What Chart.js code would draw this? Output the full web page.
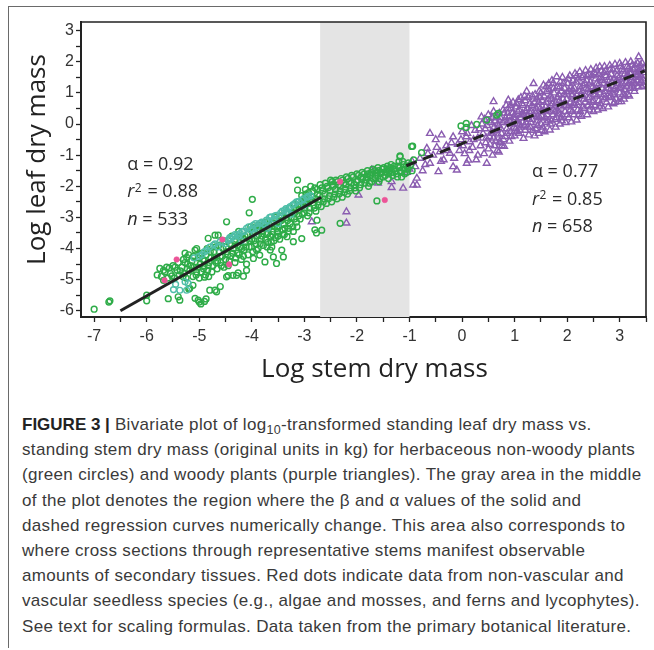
<!DOCTYPE html>
<html>
<head>
<meta charset="utf-8">
<script src="https://cdn.jsdelivr.net/npm/chart.js@4.4.1/dist/chart.umd.min.js"></script>
<style>
  html, body { margin: 0; padding: 0; background: #fff; }
  body { width: 654px; height: 650px; position: relative; overflow: hidden; }
  #frame { position: absolute; left: 8px; top: 6px; width: 660px; height: 641px;
           border-top: 1.4px solid #6a6a6a; border-left: 1.4px solid #6a6a6a; }
  #wrap { position: absolute; left: 0; top: 0; width: 654px; height: 395px; }
  #cap { position: absolute; left: 22px; top: 412px; width: 632px;
         font-family: "Liberation Sans", Arial, sans-serif; font-size: 17px; letter-spacing: 0.33px;
         line-height: 25.2px; color: #3a3a3a; white-space: nowrap; }
  #cap b { color: #222; letter-spacing: 0; }
  #cap sub { font-size: 12.5px; line-height: 0; vertical-align: -4px; }
</style>
</head>
<body>
<div id="frame"></div>
<div id="wrap"><canvas id="c" width="654" height="395"></canvas></div>
<div id="cap"><b>FIGURE 3 |</b> Bivariate plot of log<sub>10</sub>-transformed standing leaf dry mass vs.<br>standing stem dry mass (original units in kg) for herbaceous non-woody plants<br>(green circles) and woody plants (purple triangles). The gray area in the middle<br>of the plot denotes the region where the β and α values of the solid and<br>dashed regression curves numerically change. This area also corresponds to<br>where cross sections through representative stems manifest observable<br>amounts of secondary tissues. Red dots indicate data from non-vascular and<br>vascular seedless species (e.g., algae and mosses, and ferns and lycophytes).<br>See text for scaling formulas. Data taken from the primary botanical literature.</div>
<script>
// ---------------- DATA (log10 stem dry mass, log10 leaf dry mass) ----------------
const xRange = [-7.25, 3.5];
const yRange = [-6.2, 3.28];
const xTickValues = [-7, -6, -5, -4, -3, -2, -1, 0, 1, 2, 3];
const yTickValues = [-6, -5, -4, -3, -2, -1, 0, 1, 2, 3];
const shadeRange = [-2.7, -1.0];
const xTitle = 'Log stem dry mass';
const yTitle = 'Log leaf dry mass';

const herbLine = [[-6.5, -6.0], [-2.68, -2.35]];
const woodyLine = [[-1.06, -1.34], [3.475, 1.71]];

const herbStats = ["α = 0.92", "r2 = 0.88", "n = 533"];
const woodyStats = ["α = 0.77", "r2 = 0.85", "n = 658"];
const herbStatsAnchor = [-6.37, -1.3];
const woodyStatsAnchor = [1.33, -1.53];

const greenPts = [
  [-7.0,-5.95],[-6.72,-5.72],[-6.7,-5.68],[-6.0,-5.5],[-6.0,-5.68],[-5.75,-4.64],[-5.68,-5.02],
  [-5.59,-5.61],[-5.4,-5.55],[-5.37,-5.66],[-5.2,-5.3],[-5.08,-5.6],[-5.0,-5.72],[-4.97,-5.78],
  [-4.9,-5.7],[-4.87,-5.62],[-5.02,-5.66],[-4.8,-5.34],[-4.7,-5.34],[-4.67,-5.39],[-4.6,-5.22],
  [-4.9,-4.92],[-4.82,-4.9],[-4.48,-4.91],[-4.45,-4.87],[-4.36,-4.86],[-4.29,-4.86],[-4.26,-4.78],
  [-4.16,-4.89],[-4.1,-4.7],[-4.48,-3.14],[-4.64,-3.57],[-4.05,-2.85],[-3.87,-3.25],[-3.75,-4.43],
  [-3.59,-4.27],[-3.53,-4.48],[-3.43,-4.05],[-3.4,-4.27],[-3.65,-4.05],[-3.62,-3.95],[-3.97,-4.32],
  [-3.85,-4.21],[-3.33,-3.62],[-3.21,-3.78],[-3.05,-3.68],[-2.8,-3.4],[-2.77,-3.5],[-2.67,-3.41],
  [-3.1,-2.66],[-3.0,-2.5],[-3.13,-1.8],[-3.13,-2.12],[-2.76,-3.09],[-3.99,-2.42],[-2.47,-1.85],
  [-1.62,-2.47],[-2.32,-3.19],[-1.18,-1.05],[-0.94,-0.71],[-0.96,-0.72],[-0.77,-0.92],[-1.18,-1.02],
  [-0.02,-0.06],[0.08,-0.11],[0.08,0.02],[0.28,-0.01],[0.47,0.13],[0.66,0.29],[0.69,0.34],
  [-5.18,-5.28],[-5.12,-5.18],[-5.27,-4.15],[-5.24,-4.28],[-5.08,-4.05],[-5.05,-4.0],[-4.83,-3.67],[-4.7,-3.57],
  [-5.8,-4.85],[-5.72,-4.9],[-5.65,-4.75],[-5.6,-4.95],[-5.62,-4.6],
  [-5.55,-4.8],[-5.5,-4.55],[-5.47,-4.95],[-5.42,-4.7],[-5.4,-4.45],[-5.38,-4.85],
  [-5.33,-4.6],[-5.3,-4.35],[-5.28,-4.8],[-5.25,-4.95],[-5.22,-4.5],[-5.2,-4.2],[-5.18,-4.7],
  [-5.14,-4.4],[-5.12,-4.9],[-5.1,-4.6],[-5.05,-4.75],[-5.02,-4.3],[-5.0,-4.95],[-4.98,-4.5],
  [-4.95,-4.15],[-4.92,-4.65],[-4.9,-4.4],[-4.88,-4.85],[-4.85,-4.0],[-4.83,-4.55],[-4.78,-4.3],[-4.76,-4.75],
  [-4.72,-4.1],[-4.68,-4.45],[-4.66,-4.65],[-4.63,-3.9],[-4.6,-4.25],[-4.58,-4.55],[-4.55,-4.0],
  [-4.52,-3.75],[-4.5,-4.35],[-4.48,-4.1],[-4.45,-4.55],[-4.42,-3.85],[-4.4,-4.25],[-4.38,-3.6],[-4.35,-4.0],[-4.32,-4.45],
  [-4.3,-3.7],[-4.28,-4.15],[-4.25,-3.45],[-4.22,-3.95],[-4.2,-4.35],[-4.18,-3.65],[-4.15,-4.05],[-4.12,-3.8],[-4.1,-4.5],
  [-4.08,-3.55],[-4.05,-3.95],[-4.02,-3.3],[-4.0,-3.7],[-3.98,-4.1],[-3.95,-3.45],[-3.92,-3.85],[-3.9,-3.6],[-3.88,-4.0],
  [-3.85,-3.3],[-3.82,-3.7],[-3.8,-3.45],[-3.78,-3.9],[-3.75,-3.15],[-3.72,-3.55],[-3.7,-3.8],[-3.68,-3.35],
  [-3.65,-3.6],[-3.62,-3.2],[-3.6,-3.45],[-3.58,-3.75],[-3.55,-3.0],[-3.52,-3.35],[-3.5,-3.6],[-3.48,-3.15],
  [-3.45,-2.95],[-3.42,-3.4],[-3.4,-3.2],[-3.38,-3.55],[-3.35,-2.85],[-3.32,-3.1],[-3.3,-3.35],[-3.28,-2.7],
  [-3.25,-3.0],[-3.22,-3.3],[-3.2,-2.6],[-3.18,-2.85],[-3.15,-3.15],[-3.12,-2.5],[-3.1,-2.75],[-3.08,-3.05],
  [-3.05,-2.3],[-3.02,-2.6],[-3.0,-2.85],[-2.98,-2.1],[-2.96,-2.45],[-2.94,-2.95],[-2.92,-2.2],[-2.9,-2.7],[-2.88,-2.0],
  [-2.85,-2.35],[-2.82,-2.6],[-2.8,-2.05],[-2.78,-2.8],[-2.75,-2.25],[-2.72,-2.5],[-2.7,-1.95],[-2.68,-2.65],
  [-2.65,-2.15],[-2.62,-2.4],[-2.6,-1.9],[-2.58,-2.55],[-2.55,-2.05],[-2.52,-2.3],[-2.5,-1.8],[-2.48,-2.5],
  [-2.45,-2.0],[-2.42,-2.25],[-2.4,-1.8],[-2.38,-2.4],[-2.35,-1.95],[-2.32,-2.15],[-2.3,-1.75],[-2.28,-2.35],
  [-2.25,-1.9],[-2.22,-2.1],[-2.2,-1.7],[-2.18,-2.25],[-2.15,-1.85],[-2.12,-2.05],[-2.1,-1.65],
  [-2.05,-1.95],[-2.02,-2.15],[-2.0,-1.6],[-1.98,-1.8],[-1.95,-2.05],[-1.92,-1.7],[-1.9,-1.55],
  [-1.85,-1.9],[-1.82,-1.7],[-1.8,-1.5],[-1.78,-2.0],[-1.75,-1.65],[-1.72,-1.85],[-1.7,-1.45],
  [-1.65,-1.75],[-1.62,-1.55],[-1.6,-1.4],[-1.58,-1.85],[-1.55,-1.6],[-1.52,-1.45],[-1.5,-1.7],
  [-1.45,-1.55],[-1.42,-1.35],[-1.4,-1.75],[-1.38,-1.5],[-1.35,-1.3],[-1.32,-1.65],[-1.3,-1.45],
  [-1.25,-1.6],[-1.22,-1.35],[-1.2,-1.2],[-1.18,-1.5],[-1.15,-1.7],[-1.12,-1.3],[-1.1,-1.45],[-1.05,-1.55],[-1.02,-1.25],
  [-5.68,-4.7],[-5.57,-4.62],[-5.52,-4.88],[-5.46,-4.6],[-5.36,-4.72],[-5.31,-4.9],[-5.27,-4.45],
  [-5.23,-4.65],[-5.16,-4.55],[-5.11,-4.25],[-5.06,-4.85],[-5.03,-4.6],[-4.99,-4.2],[-4.96,-4.75],[-4.93,-4.35],[-4.91,-4.55],
  [-4.87,-4.2],[-4.84,-4.7],[-4.81,-4.45],[-4.79,-4.1],[-4.74,-4.55],[-4.71,-4.3],[-4.69,-3.95],[-4.65,-4.4],
  [-4.62,-4.1],[-4.59,-4.45],[-4.56,-4.25],[-4.53,-4.6],
  [-4.49,-3.95],[-4.46,-4.2],[-4.43,-4.4],[-4.39,-3.9],[-4.36,-4.15],[-4.33,-3.75],[-4.31,-4.3],[-4.27,-3.9],
  [-4.24,-4.2],[-4.21,-3.6],[-4.19,-4.0],[-4.16,-4.25],[-4.13,-3.6],[-4.11,-3.95],[-4.07,-4.2],[-4.04,-3.75],[-4.01,-3.95],
  [-3.99,-3.5],[-3.96,-3.75],[-3.93,-3.3],[-3.91,-4.05],[-3.87,-3.55],[-3.84,-3.85],[-3.81,-3.6],[-3.77,-3.35],
  [-3.74,-3.7],[-3.71,-3.95],[-3.69,-3.5],[-3.66,-3.25],[-3.63,-3.8],[-3.61,-3.55],[-3.57,-3.3],[-3.54,-3.65],[-3.51,-3.45],
  [-3.49,-3.3],[-3.47,-3.7],[-3.44,-3.1],[-3.41,-3.55],[-3.37,-3.35],[-3.34,-3.0],[-3.31,-3.45],[-3.27,-3.2],
  [-3.24,-2.85],[-3.21,-3.45],[-3.19,-3.05],[-3.16,-2.7],[-3.14,-3.3],[-3.11,-2.95],[-3.07,-2.6],[-3.04,-2.9],[-3.01,-2.4],
  [-2.99,-2.7],[-2.97,-2.25],[-2.93,-2.55],[-2.91,-2.85],[-2.87,-2.45],[-2.84,-2.15],[-2.81,-2.7],[-2.79,-2.4],
  [-2.76,-2.1],[-2.74,-2.6],[-2.71,-2.3],[-2.67,-2.05],[-2.64,-2.5],[-2.61,-2.25],[-2.57,-2.0],[-2.54,-2.4],[-2.51,-2.15],
  [-2.47,-1.95],[-2.44,-2.35],[-2.41,-2.1],[-2.37,-1.85],[-2.34,-2.25],[-2.31,-2.0],[-2.27,-1.8],[-2.24,-2.2],
  [-2.21,-1.95],[-2.17,-1.75],[-2.14,-2.15],[-2.11,-1.9],[-2.07,-1.7],[-2.04,-2.05],[-2.01,-1.85],
  [-1.97,-1.65],[-1.93,-1.95],[-1.89,-1.75],[-1.86,-1.6],[-1.83,-1.8],[-1.79,-1.6],[-1.76,-1.9],[-1.73,-1.55],
  [-1.69,-1.75],[-1.66,-1.5],[-1.63,-1.65],[-1.59,-1.5],[-1.56,-1.75],[-1.53,-1.55],[-1.49,-1.4],[-1.46,-1.65],
  [-1.43,-1.45],[-1.39,-1.6],[-1.36,-1.4],[-1.33,-1.55],[-1.29,-1.35],[-1.26,-1.5],[-1.23,-1.7],[-1.19,-1.4],
  [-1.16,-1.55],[-1.13,-1.2],[-1.09,-1.6],[-1.06,-1.35],[-1.03,-1.45],[-0.98,-1.3],[-0.95,-1.5],[-0.92,-1.15]
];

const tealPts = [
  [-5.49,-5.32],[-5.37,-5.34],[-5.24,-5.34],[-5.27,-5.07],[-5.21,-5.12],[-5.45,-5.15],
  [-4.73,-3.89],[-4.6,-3.78],[-4.45,-3.73],[-4.35,-3.62],[-4.22,-3.51],[-4.1,-3.35],[-3.97,-3.25],
  [-3.85,-3.19],[-3.72,-3.09],[-3.63,-2.98],[-3.53,-2.93],[-4.65,-3.95],[-4.5,-3.85],[-4.4,-3.7],
  [-4.28,-3.55],[-4.15,-3.45],[-4.02,-3.4],[-3.9,-3.3],[-3.78,-3.2],[-3.68,-3.1],[-3.58,-3.05],
  [-3.45,-2.85],[-3.38,-2.78],[-3.3,-2.7],[-3.22,-2.6],[-3.15,-2.5],[-3.05,-2.45],[-2.95,-2.35],
  [-2.88,-2.3],[-4.85,-4.05],[-4.95,-4.2],[-3.5,-3.2],[-3.25,-2.9],[-3.0,-2.6],[-4.2,-3.75],
  [-3.95,-3.5],[-3.7,-3.35],
  [-4.8,-3.95],[-4.7,-3.85],[-4.55,-3.8],[-4.42,-3.65],[-4.32,-3.55],[-4.18,-3.45],[-4.06,-3.3],
  [-3.93,-3.2],[-3.81,-3.15],[-3.66,-3.0],[-3.56,-2.95],[-3.42,-2.8],[-3.35,-2.72],[-3.27,-2.65],
  [-3.18,-2.55],[-3.1,-2.48],[-3.02,-2.4],[-2.92,-2.32],[-4.9,-4.1],[-5.0,-4.25],[-5.1,-4.3],
  [-4.25,-3.6],[-3.98,-3.38],[-3.75,-3.25],[-3.48,-3.0],[-3.32,-2.82]
];

const pinkPts = [
  [-5.43,-4.35],[-5.66,-5.02],[-4.56,-3.71],[-4.43,-4.51],[-2.32,-1.85],[-1.47,-2.44]
];

const purplePts = [
  [-2.2,-2.82],[-2.2,-3.18],[-2.86,-3.14],[-1.97,-2.28],[-1.6,-1.9],[-1.72,-1.48],[-1.34,-2.04],
  [-1.12,-2.06],[-0.93,-1.96],[-1.34,-1.85],[-0.86,-1.96],[-0.89,-1.37],[-0.86,-1.74],
  [-0.61,-1.26],[-0.45,-1.53],[-0.17,-1.37],[-0.1,-1.48],[0.09,-1.26],[0.12,-1.16],[0.47,-1.26],
  [-0.67,-0.78],[-0.42,-0.89],[-0.23,-0.94],[-0.39,-0.35],[-0.17,-0.41],[-0.02,-0.5],[0.08,-0.41],
  [0.15,-0.57],[0.37,0.23],[0.6,0.72],[0.88,0.77],[-1.0,-1.45],[-0.8,-1.1],[-0.55,-1.0],[-0.3,-0.7],
  [-0.05,-0.85],[0.05,-0.95],[0.2,-0.75],[0.25,-0.2],[0.3,-1.0],[-1.05,-1.55],[-0.75,-1.5],
  [-0.35,-1.15],[-0.2,-0.6],[0.0,-0.25],[0.18,-0.05],[0.3,-0.45],[-0.61,-0.3],[-0.5,-0.5],
  [-0.95,-1.2],[-0.7,-1.3],[-0.65,-0.95],[-0.48,-0.75],[-0.4,-1.2],[-0.28,-0.85],[-0.15,-1.1],
  [-0.08,-0.65],[0.02,-0.7],[0.1,-0.3],[0.14,-0.85],[0.22,-0.5],[0.27,-1.15],[0.33,-0.15],[0.35,-0.7],[0.38,0.0],
  [0.42,-0.95],[0.45,-0.6],[0.4,-0.3],[0.48,-0.05],[0.43,0.15],[0.5,-0.8],[0.52,-0.4],[0.55,0.05],[0.5,0.3],
  [0.58,-1.0],[0.62,-0.7],[0.6,-0.45],[0.65,-0.2],[0.63,0.1],[0.6,0.4],[0.67,-0.85],
  [0.7,-0.9],[0.72,-0.55],[0.75,-0.3],[0.7,-0.05],[0.73,0.2],[0.78,0.45],[0.76,-0.7],
  [0.8,-0.72],[0.82,-0.4],[0.85,-0.15],[0.81,0.1],[0.87,0.35],[0.84,0.6],[0.9,-0.55],[0.92,-0.25],
  [0.95,0.0],[0.9,0.25],[0.93,0.5],[0.97,0.7],
  [1.0,-0.38],[1.02,-0.15],[1.05,0.1],[1.0,0.3],[1.03,0.55],[1.07,0.78],[1.08,-0.3],[1.1,0.0],
  [1.12,0.2],[1.09,0.45],[1.14,0.65],[1.12,0.85],
  [1.17,-0.46],[1.2,-0.2],[1.22,0.05],[1.18,0.3],[1.24,0.5],[1.2,0.75],[1.23,1.05],[1.27,-0.35],
  [1.3,-0.1],[1.28,0.15],[1.32,0.4],[1.29,0.65],[1.34,0.9],[1.36,1.3],
  [1.38,-0.38],[1.4,-0.15],[1.42,0.1],[1.4,0.35],[1.45,0.55],[1.43,0.8],[1.47,1.05],[1.46,-0.3],
  [1.5,0.0],[1.52,0.25],[1.49,0.5],[1.53,0.75],[1.5,1.0],[1.55,1.25],
  [1.57,-0.25],[1.6,0.05],[1.62,0.3],[1.59,0.55],[1.64,0.8],[1.61,1.05],[1.65,1.3],[1.67,-0.19],
  [1.7,0.1],[1.68,0.4],[1.72,0.65],[1.69,0.9],[1.74,1.15],[1.71,1.4],
  [1.78,-0.1],[1.8,0.2],[1.82,0.45],[1.79,0.7],[1.84,0.95],[1.81,1.2],[1.8,1.52],[1.86,0.0],
  [1.9,0.3],[1.88,0.55],[1.92,0.8],[1.89,1.05],[1.93,1.3],[1.91,1.5],
  [1.97,0.05],[2.0,0.3],[2.02,0.55],[1.99,0.8],[2.04,1.05],[2.01,1.3],[2.05,1.55],[2.08,0.07],
  [2.1,0.4],[2.12,0.65],[2.09,0.9],[2.14,1.15],[2.11,1.4],[2.15,1.62],
  [2.18,0.13],[2.2,0.45],[2.22,0.7],[2.19,0.95],[2.24,1.2],[2.21,1.45],[2.24,1.68],[2.27,0.25],
  [2.3,0.55],[2.32,0.8],[2.29,1.05],[2.34,1.3],[2.31,1.55],[2.35,1.72],
  [2.38,0.3],[2.4,0.6],[2.42,0.85],[2.39,1.1],[2.44,1.35],[2.41,1.6],[2.45,1.75],[2.5,0.4],
  [2.48,0.7],[2.52,0.95],[2.49,1.2],[2.54,1.45],[2.51,1.65],[2.55,1.8],
  [2.58,0.45],[2.6,0.75],[2.62,1.0],[2.59,1.25],[2.64,1.5],[2.62,1.84],[2.65,1.7],[2.68,0.5],
  [2.7,0.8],[2.72,1.05],[2.69,1.3],[2.74,1.55],[2.71,1.85],
  [2.78,0.55],[2.8,0.85],[2.82,1.1],[2.79,1.35],[2.84,1.6],[2.81,1.88],[2.88,0.65],[2.9,0.95],
  [2.92,1.2],[2.89,1.45],[2.94,1.7],[2.91,1.92],
  [2.98,0.72],[3.03,0.72],[3.0,1.0],[3.02,1.25],[2.99,1.5],[3.04,1.75],[3.0,1.95],[3.08,0.8],
  [3.1,1.1],[3.12,1.35],[3.09,1.6],[3.14,1.85],[3.11,1.98],
  [3.18,0.9],[3.2,1.15],[3.22,1.4],[3.19,1.65],[3.24,1.9],[3.21,2.0],[3.28,1.05],[3.3,1.3],
  [3.32,1.55],[3.29,1.8],[3.34,1.95],
  [3.38,1.31],[3.4,1.55],[3.42,1.75],[3.39,1.9],[3.36,2.16],[3.44,1.45],[3.45,1.65],
  [0.44,-0.15],[0.46,-0.45],[0.53,-0.65],[0.56,-0.25],[0.57,0.2],[0.61,-0.1],[0.64,-0.55],[0.66,0.25],
  [0.69,-0.35],[0.71,0.35],[0.74,-0.15],[0.77,0.05],[0.79,-0.5],[0.83,0.2],[0.86,-0.3],[0.88,0.5],
  [0.91,0.1],[0.94,-0.4],[0.96,0.35],[0.99,-0.1],
  [1.01,0.15],[1.04,-0.25],[1.06,0.4],[1.11,-0.1],[1.13,0.3],[1.15,0.05],[1.16,0.6],[1.19,-0.05],
  [1.21,0.4],[1.25,0.25],[1.26,0.85],[1.31,0.05],[1.33,0.6],[1.35,-0.2],[1.37,0.3],[1.39,0.95],
  [1.41,0.5],[1.44,-0.05],[1.46,0.7],[1.48,0.2],
  [1.51,0.4],[1.54,-0.1],[1.56,0.9],[1.58,0.2],[1.6,0.7],[1.63,0.45],[1.66,1.1],[1.68,0.0],
  [1.7,0.8],[1.73,0.3],[1.75,1.0],[1.76,0.55],[1.77,0.15],[1.83,0.35],[1.85,0.75],[1.87,1.35],
  [1.89,0.2],[1.94,0.6],[1.95,1.15],[1.96,0.4],
  [2.0,1.0],[2.03,0.2],[2.06,0.7],[2.07,1.2],[2.1,0.95],[2.13,0.3],[2.16,0.8],[2.17,1.35],
  [2.2,0.6],[2.23,1.05],[2.25,0.4],[2.28,1.5],[2.3,0.9],[2.33,0.5],[2.36,1.15],[2.37,1.4],
  [2.4,0.8],[2.43,1.0],[2.46,0.55],[2.47,1.55],
  [2.5,1.05],[2.53,0.6],[2.56,1.3],[2.57,0.9],[2.6,1.6],[2.63,0.65],[2.66,1.15],[2.67,1.4],
  [2.7,0.95],[2.73,1.7],[2.75,0.7],[2.77,1.25],[2.8,1.5],[2.83,0.9],[2.85,1.35],[2.87,1.75],
  [2.9,1.1],[2.93,0.8],[2.95,1.55],[2.97,1.3],
  [3.01,1.15],[3.05,1.45],[3.06,0.95],[3.07,1.7],[3.13,1.2],[3.15,1.6],[3.16,0.95],[3.17,1.8],
  [3.23,1.25],[3.25,1.5],[3.26,1.75],[3.27,1.15],[3.31,1.65],[3.33,1.4],[3.35,1.2],[3.37,1.7],
  [3.41,1.35],[3.43,1.95],[3.45,1.25],[3.46,1.8],
  [0.52,0.1],[0.58,-0.3],[0.68,0.0],[0.73,-0.6],[0.8,0.35],[0.86,0.05],[0.92,0.6],[0.98,0.2],
  [1.04,0.65],[1.1,-0.2],[1.15,0.35],[1.19,0.9],[1.25,-0.1],[1.28,0.4],[1.33,0.15],[1.38,0.7],
  [1.43,0.25],[1.48,0.85],[1.52,-0.2],[1.56,0.45],[1.6,1.2],[1.64,0.1],[1.69,0.6],[1.73,1.3],
  [1.77,0.4],[1.82,0.85],[1.86,1.2],[1.9,0.1],[1.94,0.95],[1.98,0.6],[2.02,1.45],[2.06,0.45],
  [2.1,1.1],[2.14,0.6],[2.18,1.55],[2.22,0.3],[2.26,0.95],[2.3,1.25],[2.34,0.7],[2.38,1.55],
  [2.42,0.45],[2.46,1.2],[2.5,0.75],[2.54,1.6],[2.58,1.1],[2.62,0.55],[2.66,1.45],[2.7,1.65],
  [2.74,0.85],[2.78,1.15],[2.82,1.75],[2.86,1.0],[2.9,0.7],[2.94,1.4],[2.98,1.15],[3.02,1.85],
  [3.06,1.3],[3.1,0.9],[3.14,1.5],[3.18,1.3],[3.22,1.65],[3.26,1.35],[3.3,1.9],[3.34,1.6],
  [3.38,1.5],[3.42,1.2]
];

// ---------------- CHART ----------------
const toXY = a => a.map(p => ({x: p[0], y: p[1]}));
const GREEN = 'rgb(46,172,72)';
const TEAL = 'rgb(78,190,168)';
const PINK = 'rgb(236,84,152)';
const PURPLE = 'rgb(138,92,176)';
const INK = '#222';
const TITLE_FONT = '26px "Open Sans", sans-serif';

const decoPlugin = {
  id: 'deco',
  beforeDatasetsDraw(chart) {
    const {ctx, chartArea: a, scales: {x}} = chart;
    const x0 = x.getPixelForValue(shadeRange[0]);
    const x1 = x.getPixelForValue(shadeRange[1]);
    ctx.save();
    ctx.fillStyle = '#e4e4e4';
    ctx.fillRect(x0, a.top, x1 - x0, a.bottom - a.top);
    ctx.restore();
  },
  afterDraw(chart) {
    const {ctx, chartArea: a, scales: {x, y}} = chart;
    ctx.save();
    ctx.strokeStyle = INK;
    ctx.lineWidth = 1.6;
    ctx.beginPath();
    ctx.moveTo(a.left, a.top); ctx.lineTo(a.right, a.top); ctx.lineTo(a.right, a.bottom);
    ctx.stroke();
    // axis titles
    ctx.fillStyle = INK;
    ctx.font = TITLE_FONT;
    ctx.textAlign = 'center';
    ctx.textBaseline = 'middle';
    ctx.fillText(xTitle, (a.left + a.right) / 2 + 11, a.bottom + 53);
    ctx.save();
    ctx.translate(a.left - 43, (a.top + a.bottom) / 2 - 10);
    ctx.rotate(-Math.PI / 2);
    ctx.fillText(yTitle, 0, 0);
    ctx.restore();
    // stats text
    const drawStats = (lines, anchor) => {
      const px = x.getPixelForValue(anchor[0]);
      const py = y.getPixelForValue(anchor[1]);
      const step = 27.8;
      ctx.fillStyle = '#2a2a2a';
      ctx.textBaseline = 'middle';
      ctx.textAlign = 'left';
      lines.forEach((t, i) => {
        const yy = py + i * step;
        const norm = '18px "Open Sans", sans-serif';
        const ital = 'italic 18px "Open Sans", sans-serif';
        let cx = px;
        if (t.startsWith('r2')) {
          ctx.font = ital; ctx.fillText('r', cx, yy); cx += ctx.measureText('r').width + 0.5;
          ctx.font = '12px "Open Sans", sans-serif'; ctx.fillText('2', cx, yy - 4); cx += ctx.measureText('2').width + 1;
          ctx.font = norm; ctx.fillText(t.slice(2), cx, yy);
        } else if (t.startsWith('n')) {
          ctx.font = ital; ctx.fillText('n', cx, yy); cx += ctx.measureText('n').width;
          ctx.font = norm; ctx.fillText(t.slice(1), cx, yy);
        } else {
          ctx.font = norm; ctx.fillText(t, cx, yy);
        }
      });
    };
    drawStats(herbStats, herbStatsAnchor);
    drawStats(woodyStats, woodyStatsAnchor);
    ctx.restore();
  }
};

const ptBase = {type: 'scatter', showLine: false, pointHoverRadius: 0};

new Chart(document.getElementById('c'), {
  type: 'scatter',
  data: {
    datasets: [
      {type: 'line', data: toXY(herbLine), borderColor: INK, borderWidth: 3, pointRadius: 0, fill: false, order: 0},
      {type: 'line', data: toXY(woodyLine), borderColor: INK, borderWidth: 3, borderDash: [11, 7], pointRadius: 0, fill: false, order: 0},
      {...ptBase, data: toXY(pinkPts), pointStyle: 'circle', pointRadius: 2.8, backgroundColor: PINK, borderColor: PINK, borderWidth: 0.5, order: 1},
      {...ptBase, data: toXY(tealPts), pointStyle: 'circle', pointRadius: 2.9, backgroundColor: 'rgba(0,0,0,0)', borderColor: TEAL, borderWidth: 1.4, order: 2},
      {...ptBase, data: toXY(greenPts), pointStyle: 'circle', pointRadius: 2.9, backgroundColor: 'rgba(0,0,0,0)', borderColor: GREEN, borderWidth: 1.45, order: 3},
      {...ptBase, data: toXY(purplePts), pointStyle: 'triangle', pointRadius: 3.9, backgroundColor: 'rgba(0,0,0,0)', borderColor: PURPLE, borderWidth: 1.4, order: 4}
    ]
  },
  options: {
    responsive: false,
    animation: false,
    devicePixelRatio: 1,
    layout: {padding: {top: 22, right: 8, left: 10, bottom: 0}},
    plugins: {legend: {display: false}, tooltip: {enabled: false}},
    scales: {
      x: {
        type: 'linear', min: xRange[0], max: xRange[1],
        afterFit: s => { s.height = 78; },
        grid: {drawOnChartArea: false, drawTicks: true, tickLength: 5, color: INK, tickWidth: 1.3},
        border: {display: true, color: INK, width: 2},
        ticks: {stepSize: 0.5, includeBounds: false, autoSkip: false, maxTicksLimit: 100, maxRotation: 0,
                padding: 5, color: '#333', font: {family: '"Liberation Sans", Arial, sans-serif', size: 16},
                callback: v => xTickValues.includes(v) ? String(v) : ''},
        title: {display: false, text: xTitle}
      },
      y: {
        type: 'linear', min: yRange[0], max: yRange[1],
        afterFit: s => { s.width = 71; },
        grid: {drawOnChartArea: false, drawTicks: true, tickLength: 5, color: INK, tickWidth: 1.3},
        border: {display: true, color: INK, width: 2},
        ticks: {stepSize: 0.5, includeBounds: false, autoSkip: false, maxTicksLimit: 100,
                padding: 2, color: '#333', font: {family: '"Liberation Sans", Arial, sans-serif', size: 16},
                callback: v => yTickValues.includes(v) ? String(v) : ''},
        title: {display: false, text: yTitle}
      }
    }
  },
  plugins: [decoPlugin]
});
</script>
</body>
</html>
